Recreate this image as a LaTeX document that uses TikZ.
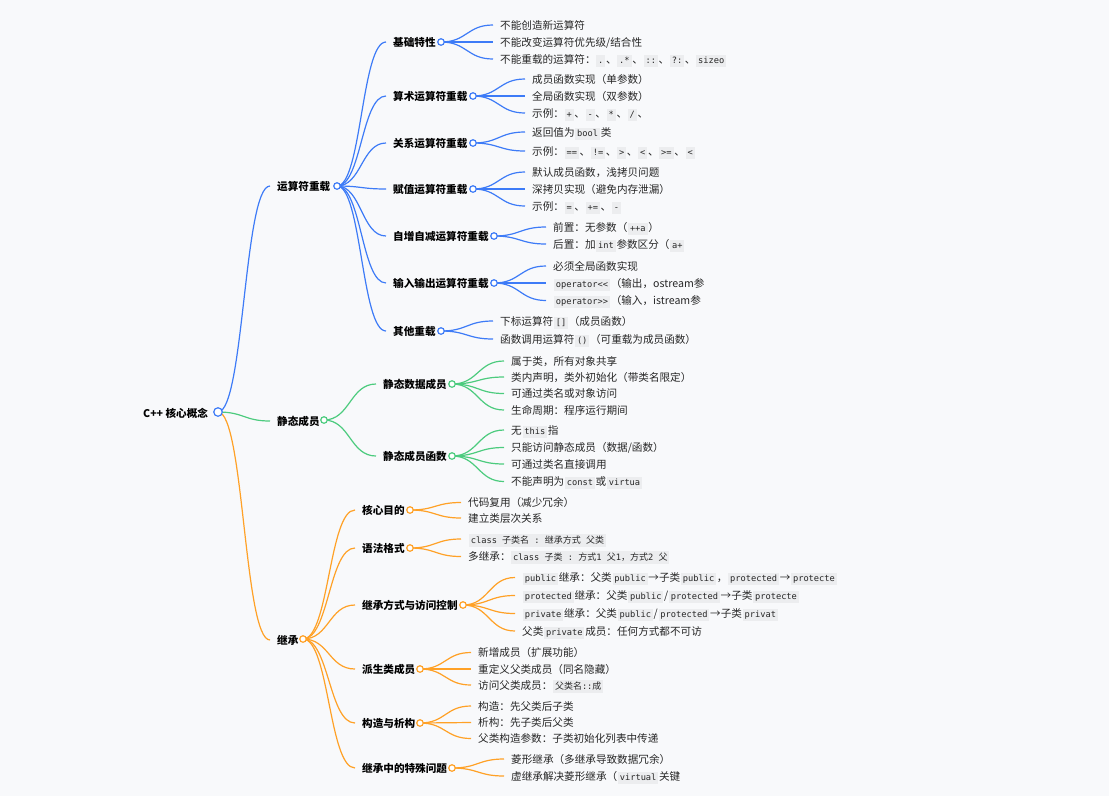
\documentclass[tikz,border=0pt]{standalone}
\usepackage{fontspec}
\setmainfont{Noto Sans CJK SC}
\setmonofont{DejaVu Sans Mono}
\usetikzlibrary{calc}
\definecolor{bgc}{HTML}{F8F9FB}
\definecolor{cblue}{HTML}{3D7BF7}
\definecolor{cgreen}{HTML}{4CCB7E}
\definecolor{corange}{HTML}{FFA126}
\definecolor{codebg}{HTML}{ECEDEF}
\definecolor{txt}{HTML}{262626}
\pgfdeclarelayer{bg}
\pgfdeclarelayer{lines}
\pgfsetlayers{bg,lines,main}
\newcommand\zh[1]{{\rmfamily\fontsize{9pt}{10pt}\selectfont #1}}
\newcommand\cod[1]{\hspace{0.8pt}{\setlength\fboxsep{1.8pt}\colorbox{codebg}{\ttfamily\fontsize{8.7pt}{10pt}\selectfont\vphantom{Ay}#1}}\hspace{0.8pt}}
\newcommand\lnk[3]{\draw[lk,#1] let \p1=(#2), \p2=(#3) in (#2) .. controls ({(\x1+\x2)/2},\y1) and ({(\x1+\x2)/2},\y2) .. (#3);}
\begin{document}
\begin{tikzpicture}[x=1pt,y=-1pt,
  lab/.style={anchor=west, inner xsep=7pt, inner ysep=0pt, text height=9.5pt, text depth=1.3pt, text=txt, font=\fontsize{10.6pt}{12pt}\selectfont},
  blab/.style={lab, text=black, font=\fontsize{10.6pt}{12pt}\selectfont\bfseries},
  circ/.style={circle, draw, fill=white, line width=1.2pt, inner sep=0pt, minimum size=6.5pt},
  lk/.style={line width=1.2pt}]
\begin{pgfonlayer}{bg}
\fill[bgc] (0,0) rectangle (1109,796);
\end{pgfonlayer}
\useasboundingbox (0,0) rectangle (1109,796);
% root
\node[blab, inner xsep=0pt] (root) at (143,413) {C++ 核心概念};
\node[circ, draw=cblue, minimum size=8.5pt] (c-root) at (218,412) {};
% level 1
\node[blab] (ops) at (270,186) {运算符重载};
\node[circ, draw=cblue] (c-ops) at (337,186) {};
\node[blab] (sta) at (270,421) {静态成员};
\node[circ, draw=cgreen] (c-sta) at (324,420) {};
\node[blab] (inh) at (270,640) {继承};
\node[circ, draw=corange] (c-inh) at (303,639) {};
% level 2 operators
\node[blab] (b1) at (386,42) {基础特性};
\node[circ, draw=cblue] (c-b1) at (441,42) {};
\node[blab] (b2) at (386,96) {算术运算符重载};
\node[circ, draw=cblue] (c-b2) at (473,96) {};
\node[blab] (b3) at (386,143) {关系运算符重载};
\node[circ, draw=cblue] (c-b3) at (473,143) {};
\node[blab] (b4) at (386,189) {赋值运算符重载};
\node[circ, draw=cblue] (c-b4) at (473,189) {};
\node[blab] (b5) at (386,236) {自增自减运算符重载};
\node[circ, draw=cblue] (c-b5) at (494,236) {};
\node[blab] (b6) at (386,283) {输入输出运算符重载};
\node[circ, draw=cblue] (c-b6) at (494,283) {};
\node[blab] (b7) at (386,331) {其他重载};
\node[circ, draw=cblue] (c-b7) at (441,331) {};
% level 2 static
\node[blab] (s1) at (376,384) {静态数据成员};
\node[circ, draw=cgreen] (c-s1) at (452,384) {};
\node[blab] (s2) at (376,456) {静态成员函数};
\node[circ, draw=cgreen] (c-s2) at (452,456) {};
% level 2 inheritance
\node[blab] (i1) at (355,510) {核心目的};
\node[circ, draw=corange] (c-i1) at (410,510) {};
\node[blab] (i2) at (355,548) {语法格式};
\node[circ, draw=corange] (c-i2) at (410,548) {};
\node[blab] (i3) at (355,605) {继承方式与访问控制};
\node[circ, draw=corange] (c-i3) at (463,605) {};
\node[blab] (i4) at (355,669) {派生类成员};
\node[circ, draw=corange] (c-i4) at (420,669) {};
\node[blab] (i5) at (355,723) {构造与析构};
\node[circ, draw=corange] (c-i5) at (420,723) {};
\node[blab] (i6) at (355,768) {继承中的特殊问题};
\node[circ, draw=corange] (c-i6) at (452,768) {};
% leaves operators
\node[lab] (l11) at (493,25) {不能创造新运算符};
\node[lab] (l12) at (493,42) {不能改变运算符优先级/结合性};
\node[lab] (l13) at (493,59) {不能重载的运算符：\cod{.}、\cod{.*}、\cod{::}、\cod{?:}、\cod{sizeo}};
\node[lab] (l21) at (525,79) {成员函数实现（单参数）};
\node[lab] (l22) at (525,96) {全局函数实现（双参数）};
\node[lab] (l23) at (525,113) {示例：\cod{+}、\cod{-}、\cod{*}、\cod{/}、};
\node[lab] (l31) at (525,132) {返回值为\cod{bool}类};
\node[lab] (l32) at (525,151) {示例：\cod{==}、\cod{!=}、\cod{>}、\cod{<}、\cod{>=}、\cod{<}};
\node[lab] (l41) at (525,172) {默认成员函数，浅拷贝问题};
\node[lab] (l42) at (525,189) {深拷贝实现（避免内存泄漏）};
\node[lab] (l43) at (525,206) {示例：\cod{=}、\cod{+=}、\cod{-}};
\node[lab] (l51) at (546,227) {前置：无参数（\cod{++a}）};
\node[lab] (l52) at (546,244) {后置：加\cod{int}参数区分（\cod{a+}};
\node[lab] (l61) at (546,266) {必须全局函数实现};
\node[lab] (l62) at (546,283) {\cod{operator<<}（输出，ostream参};
\node[lab] (l63) at (546,300.5) {\cod{operator>>}（输入，istream参};
\node[lab] (l71) at (493,321) {下标运算符\cod{[]}（成员函数）};
\node[lab] (l72) at (493,339) {函数调用运算符\cod{()}（可重载为成员函数）};
% leaves static
\node[lab] (m11) at (504,361) {属于类，所有对象共享};
\node[lab] (m12) at (504,377) {类内声明，类外初始化（带类名限定）};
\node[lab] (m13) at (504,393.5) {可通过类名或对象访问};
\node[lab] (m14) at (504,410) {生命周期：程序运行期间};
\node[lab] (m21) at (504,430) {无\cod{this}指};
\node[lab] (m22) at (504,447.5) {只能访问静态成员（数据/函数）};
\node[lab] (m23) at (504,464) {可通过类名直接调用};
\node[lab] (m24) at (504,481.5) {不能声明为\cod{const}或\cod{virtua}};
% leaves inheritance
\node[lab] (k11) at (461,502.5) {代码复用（减少冗余）};
\node[lab] (k12) at (461,518) {建立类层次关系};
\node[lab] (k21) at (461,539) {\cod{class \zh{子类名} : \zh{继承方式} \zh{父类}}};
\node[lab] (k22) at (461,556.5) {多继承：\cod{class \zh{子类} : \zh{方式}1 \zh{父}1\zh{，}\zh{方式}2 \zh{父}}};
\node[lab] (k31) at (515,577.5) {\cod{public}继承：父类\cod{public}→子类\cod{public}，\cod{protected}→\cod{protecte}};
\node[lab] (k32) at (515,595.5) {\cod{protected}继承：父类\cod{public}/\cod{protected}→子类\cod{protecte}};
\node[lab] (k33) at (515,613.5) {\cod{private}继承：父类\cod{public}/\cod{protected}→子类\cod{privat}};
\node[lab] (k34) at (515,631) {父类\cod{private}成员：任何方式都不可访};
\node[lab] (k41) at (471,652.5) {新增成员（扩展功能）};
\node[lab] (k42) at (471,669) {重定义父类成员（同名隐藏）};
\node[lab] (k43) at (471,685) {访问父类成员：\cod{\zh{父类名}::\zh{成}}};
\node[lab] (k51) at (471,706) {构造：先父类后子类};
\node[lab] (k52) at (471,722.5) {析构：先子类后父类};
\node[lab] (k53) at (471,738.5) {父类构造参数：子类初始化列表中传递};
\node[lab] (k61) at (504,759) {菱形继承（多继承导致数据冗余）};
\node[lab] (k62) at (504,776) {虚继承解决菱形继承（\cod{virtual}关键};
% links
\begin{pgfonlayer}{lines}
\lnk{cblue}{c-root.center}{ops.west}
\lnk{cgreen}{c-root.center}{sta.west}
\lnk{corange}{c-root.center}{inh.west}
\foreach \b in {b1,b2,b3,b4,b5,b6,b7}{\lnk{cblue}{c-ops.center}{\b.west}}
\foreach \s in {s1,s2}{\lnk{cgreen}{c-sta.center}{\s.west}}
\foreach \i in {i1,i2,i3,i4,i5,i6}{\lnk{corange}{c-inh.center}{\i.west}}
\foreach \l in {l11,l12,l13}{\lnk{cblue}{c-b1.center}{\l.west}}
\foreach \l in {l21,l22,l23}{\lnk{cblue}{c-b2.center}{\l.west}}
\foreach \l in {l31,l32}{\lnk{cblue}{c-b3.center}{\l.west}}
\foreach \l in {l41,l42,l43}{\lnk{cblue}{c-b4.center}{\l.west}}
\foreach \l in {l51,l52}{\lnk{cblue}{c-b5.center}{\l.west}}
\foreach \l in {l61,l62,l63}{\lnk{cblue}{c-b6.center}{\l.west}}
\foreach \l in {l71,l72}{\lnk{cblue}{c-b7.center}{\l.west}}
\foreach \l in {m11,m12,m13,m14}{\lnk{cgreen}{c-s1.center}{\l.west}}
\foreach \l in {m21,m22,m23,m24}{\lnk{cgreen}{c-s2.center}{\l.west}}
\foreach \l in {k11,k12}{\lnk{corange}{c-i1.center}{\l.west}}
\foreach \l in {k21,k22}{\lnk{corange}{c-i2.center}{\l.west}}
\foreach \l in {k31,k32,k33,k34}{\lnk{corange}{c-i3.center}{\l.west}}
\foreach \l in {k41,k42,k43}{\lnk{corange}{c-i4.center}{\l.west}}
\foreach \l in {k51,k52,k53}{\lnk{corange}{c-i5.center}{\l.west}}
\foreach \l in {k61,k62}{\lnk{corange}{c-i6.center}{\l.west}}
\end{pgfonlayer}
\end{tikzpicture}
\end{document}
